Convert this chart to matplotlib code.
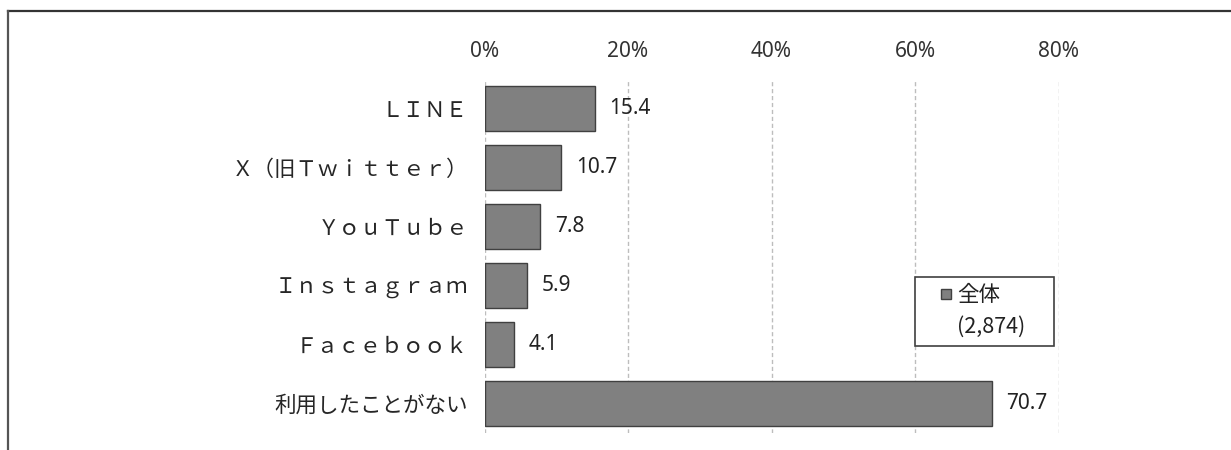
import matplotlib
matplotlib.use("Agg")
import matplotlib.pyplot as plt
from matplotlib.lines import Line2D

plt.rcParams['font.family'] = ['Noto Sans CJK JP', 'DejaVu Sans']

# data
categories = ['ＬＩＮＥ', 'Ｘ（旧Ｔｗｉｔｔｅｒ）', 'ＹｏｕＴｕｂｅ',
              'Ｉｎｓｔａｇｒａｍ', 'Ｆａｃｅｂｏｏｋ', '利用したことがない']
values = [15.4, 10.7, 7.8, 5.9, 4.1, 70.7]
xticks = [0, 20, 40, 60, 80]
xtick_labels = ['0%', '20%', '40%', '60%', '80%']
legend_labels = ['全体', '(2,874)']

W, H = 1231, 450
fig = plt.figure(figsize=(W / 100, H / 100), dpi=100)
ax = fig.add_axes([484.5 / W, 1 - 433 / H, (1058.5 - 484.5) / W, 354 / H])

ypos = list(range(len(categories)))
ax.barh(ypos, values, height=0.76, color='#808080',
        edgecolor='#404040', linewidth=1.0, zorder=3)

for y, v in zip(ypos, values):
    ax.annotate(f'{v:.1f}', xy=(v, y), xytext=(10.5, 0), textcoords='offset points',
                va='center', ha='left', fontsize=15, color='#222222',
                family=['Noto Sans', 'DejaVu Sans'])

ax.set_xlim(0, 80)
ax.set_ylim(len(categories) - 0.5, -0.5)
ax.set_xticks(xticks)
ax.set_xticklabels(xtick_labels, fontsize=15, color='#333333',
                   family=['Noto Sans', 'DejaVu Sans'])
ax.xaxis.tick_top()
ax.set_yticks(ypos)
ax.set_yticklabels(categories, fontsize=15.5, color='#262626')
ax.tick_params(axis='x', length=0, pad=12)
ax.tick_params(axis='y', length=0, pad=12)
for s in ax.spines.values():
    s.set_visible(False)
ax.grid(axis='x', color='#bdbdbd', linestyle=(0, (3, 2)), linewidth=1.0, zorder=0)
ax.set_axisbelow(True)

handles = [Line2D([], [], linestyle='none', marker='s', markersize=6.5,
                  markerfacecolor='#808080', markeredgecolor='#404040', markeredgewidth=1.0),
           Line2D([], [], linestyle='none')]
leg = ax.legend(handles, legend_labels, loc='upper left',
                bbox_to_anchor=(915 / W, 1 - 277 / H, 139 / W, 0.0001),
                bbox_transform=fig.transFigure, mode='expand', numpoints=1,
                borderaxespad=0, fontsize=15.5, handlelength=2.2,
                handletextpad=-0.6, labelspacing=0.45, borderpad=0.35,
                fancybox=False, framealpha=1.0, edgecolor='#404040')
leg.get_frame().set_linewidth(1.2)
for t in leg.get_texts():
    t.set_color('#222222')

# outer frame (top and left edges only, as cropped in the source)
fig.add_artist(Line2D([8 / W, 1], [1 - 11 / H, 1 - 11 / H], transform=fig.transFigure,
                      color='#333333', linewidth=1.6))
fig.add_artist(Line2D([8 / W, 8 / W], [0, 1 - 11 / H], transform=fig.transFigure,
                      color='#555555', linewidth=1.6))

fig.savefig('out.png', dpi=100, facecolor='white')
